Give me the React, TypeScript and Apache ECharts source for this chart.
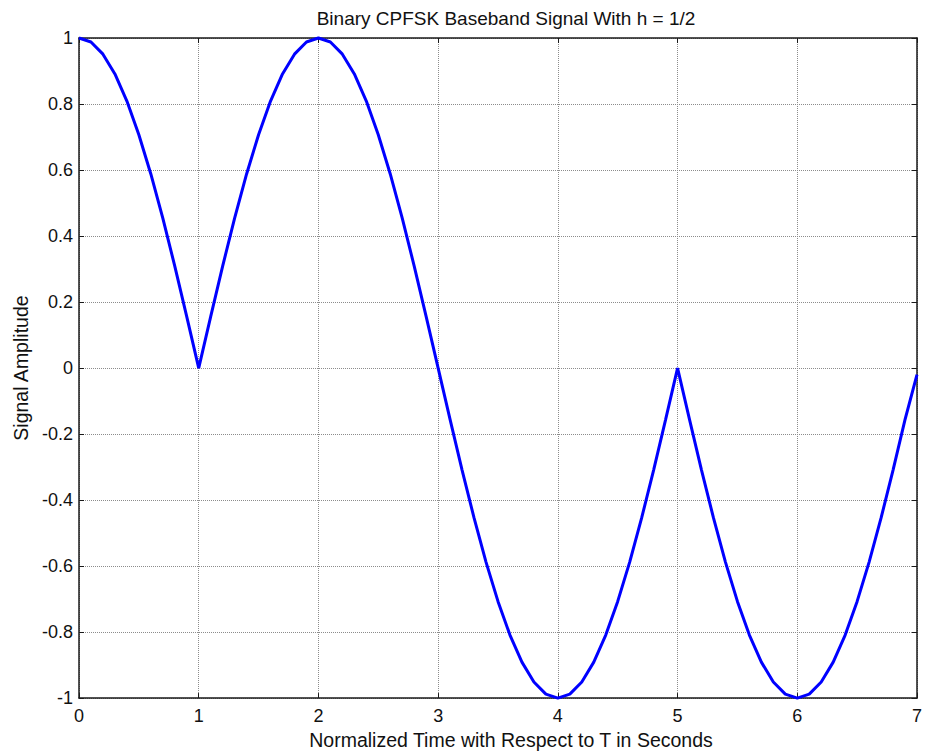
import React, { useEffect, useRef } from "react";
import * as echarts from "echarts";

const timeValues: number[] = [
  0, 0.1, 0.2, 0.3, 0.4, 0.5, 0.6, 0.7, 0.8, 0.9,
  1, 1.1, 1.2, 1.3, 1.4, 1.5, 1.6, 1.7, 1.8, 1.9,
  2, 2.1, 2.2, 2.3, 2.4, 2.5, 2.6, 2.7, 2.8, 2.9,
  3, 3.1, 3.2, 3.3, 3.4, 3.5, 3.6, 3.7, 3.8, 3.9,
  4, 4.1, 4.2, 4.3, 4.4, 4.5, 4.6, 4.7, 4.8, 4.9,
  5, 5.1, 5.2, 5.3, 5.4, 5.5, 5.6, 5.7, 5.8, 5.9,
  6, 6.1, 6.2, 6.3, 6.4, 6.5, 6.6, 6.7, 6.8, 6.9,
  7,
];

const amplitudeValues: number[] = [
  1, 0.988, 0.951, 0.891, 0.809, 0.707, 0.588, 0.454, 0.309, 0.156,
  0, 0.156, 0.309, 0.454, 0.588, 0.707, 0.809, 0.891, 0.951, 0.988,
  1, 0.988, 0.951, 0.891, 0.809, 0.707, 0.588, 0.454, 0.309, 0.156,
  0, -0.156, -0.309, -0.454, -0.588, -0.707, -0.809, -0.891, -0.951, -0.988,
  -1, -0.988, -0.951, -0.891, -0.809, -0.707, -0.588, -0.454, -0.309, -0.156,
  0, -0.156, -0.309, -0.454, -0.588, -0.707, -0.809, -0.891, -0.951, -0.988,
  -1, -0.988, -0.951, -0.891, -0.809, -0.707, -0.588, -0.454, -0.309, -0.156,
  -0.02,
];

const titleText = "Binary CPFSK Baseband Signal With h = 1/2";
const xAxisTitle = "Normalized Time with Respect to T in Seconds";
const yAxisTitle = "Signal Amplitude";

const FONT = "'Liberation Sans', Arial, sans-serif";

export default function App() {
  const ref = useRef<HTMLDivElement>(null);

  useEffect(() => {
    if (!ref.current) return;
    const chart = echarts.init(ref.current, undefined, { renderer: "svg" });
    const data = timeValues.map((t, i) => [t, amplitudeValues[i]]);
    const gridLine = { show: true, lineStyle: { color: "#8c8c8c", width: 1, type: [1, 1] as any } };
    const frameLine = { show: true, onZero: false, lineStyle: { color: "#1a1a1a", width: 1.5 } };
    const innerTick = { show: true, inside: true, length: 5, lineStyle: { color: "#1a1a1a" } };
    chart.setOption({
      animation: false,
      backgroundColor: "#ffffff",
      title: {
        text: titleText,
        left: 501,
        top: 4,
        textAlign: "center",
        textStyle: { fontFamily: FONT, fontSize: 19, fontWeight: "normal", color: "#111" },
      },
      grid: { left: 79, right: 6, top: 38, bottom: 54, containLabel: false },
      xAxis: [
        {
          type: "value",
          min: 0,
          max: 7,
          interval: 1,
          position: "bottom",
          name: xAxisTitle,
          nameLocation: "middle",
          nameGap: 31,
          nameTextStyle: { fontFamily: FONT, fontSize: 19.5, color: "#111", padding: [0, 0, 0, 26] },
          axisLine: frameLine,
          axisTick: innerTick,
          axisLabel: { fontFamily: FONT, fontSize: 18, color: "#111", margin: 9 },
          splitLine: gridLine,
        },
        {
          type: "value",
          min: 0,
          max: 7,
          interval: 1,
          position: "top",
          axisLine: frameLine,
          axisTick: innerTick,
          axisLabel: { show: false },
          splitLine: { show: false },
        },
      ],
      yAxis: [
        {
          type: "value",
          min: -1,
          max: 1,
          interval: 0.2,
          position: "left",
          name: yAxisTitle,
          nameLocation: "middle",
          nameGap: 47,
          nameRotate: 90,
          nameTextStyle: { fontFamily: FONT, fontSize: 19.5, color: "#111" },
          axisLine: frameLine,
          axisTick: innerTick,
          axisLabel: {
            fontFamily: FONT,
            fontSize: 18,
            color: "#111",
            margin: 6,
            formatter: (v: number) => {
              const r = Math.round(v * 10) / 10;
              return r === 0 ? "0" : String(r);
            },
          },
          splitLine: gridLine,
        },
        {
          type: "value",
          min: -1,
          max: 1,
          interval: 0.2,
          position: "right",
          axisLine: frameLine,
          axisTick: innerTick,
          axisLabel: { show: false },
          splitLine: { show: false },
        },
      ],
      series: [
        {
          type: "line",
          data,
          xAxisIndex: 0,
          yAxisIndex: 0,
          showSymbol: false,
          symbol: "none",
          smooth: false,
          lineStyle: { color: "#0000ff", width: 3 },
          clip: false,
        },
      ],
    });
    return () => chart.dispose();
  }, []);

  return (
    <div
      ref={ref}
      style={{ width: 925, height: 755, position: "absolute", left: 0, top: 0, background: "#fff" }}
    />
  );
}
